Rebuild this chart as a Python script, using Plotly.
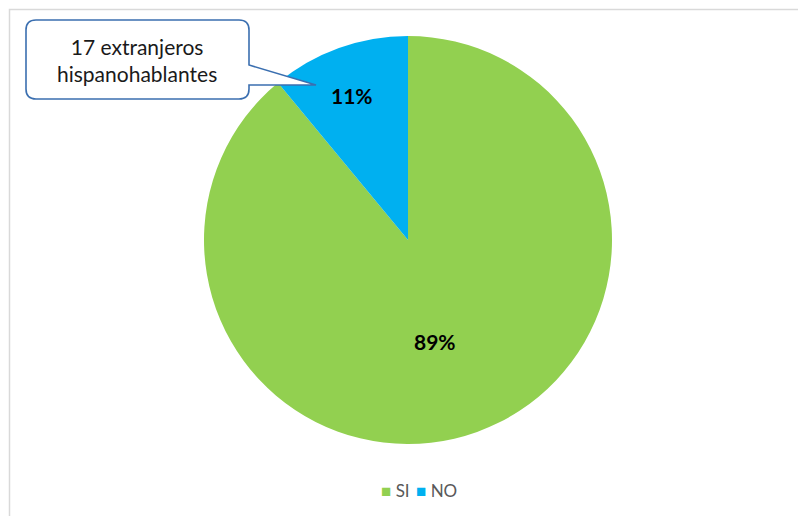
import plotly.graph_objects as go

categories = ["SI", "NO"]
values = [89, 11]
colors = ["#92D050", "#00B0F0"]
callout_text = "17 extranjeros<br>hispanohablantes"

W, H = 798, 516

def px(x):
    return x / W

def py(y):
    return 1 - y / H

fig = go.Figure()
fig.add_trace(go.Pie(
    labels=categories,
    values=values,
    sort=False,
    direction="clockwise",
    rotation=0,
    marker=dict(colors=colors, line=dict(width=0)),
    textinfo="none",
    hoverinfo="label+percent",
    domain=dict(x=[px(204), px(612)], y=[py(444), py(36)]),
    showlegend=False,
))

total = sum(values)
label_pos = {"SI": (435, 341), "NO": (352, 95)}
annotations = []
for c, v in zip(categories, values):
    x, y = label_pos[c]
    annotations.append(dict(
        x=px(x), y=py(y), xref="paper", yref="paper",
        text=f"<b>{round(100 * v / total)}%</b>", showarrow=False,
        font=dict(family="Lato, Calibri, sans-serif", size=21, color="#000000"),
        xanchor="center", yanchor="middle",
    ))

annotations.append(dict(
    x=px(137), y=py(60), xref="paper", yref="paper",
    text=callout_text, showarrow=False,
    font=dict(family="Lato, Calibri, sans-serif", size=21, color="#1a1a1a"),
    xanchor="center", yanchor="middle", align="center",
))

# legend (compact, Excel-like)
legend_x = {"SI": 379, "NO": 414}
for c, col in zip(categories, colors):
    annotations.append(dict(
        x=px(legend_x[c]), y=py(490), xref="paper", yref="paper",
        text=f"<span style='color:{col}'>■</span> {c}", showarrow=False,
        font=dict(family="Lato, Calibri, sans-serif", size=17, color="#595959"),
        xanchor="left", yanchor="middle",
    ))

# callout path
x0, y0, x1, y1, r = 26, 20, 249, 99, 10
pts = [
    f"M {px(x0 + r)} {py(y0)}",
    f"L {px(x1 - r)} {py(y0)}",
    f"Q {px(x1)} {py(y0)} {px(x1)} {py(y0 + r)}",
    f"L {px(x1)} {py(65)}",
    f"L {px(316)} {py(85)}",
    f"L {px(x1)} {py(85)}",
    f"L {px(x1)} {py(y1 - r)}",
    f"Q {px(x1)} {py(y1)} {px(x1 - r)} {py(y1)}",
    f"L {px(x0 + r)} {py(y1)}",
    f"Q {px(x0)} {py(y1)} {px(x0)} {py(y1 - r)}",
    f"L {px(x0)} {py(y0 + r)}",
    f"Q {px(x0)} {py(y0)} {px(x0 + r)} {py(y0)}",
    "Z",
]

shapes = [
    dict(type="rect", xref="paper", yref="paper",
         x0=px(9.5), y0=py(9.5), x1=px(820), y1=py(540),
         line=dict(color="#D9D9D9", width=1.5), fillcolor="rgba(0,0,0,0)", layer="below"),
    dict(type="path", xref="paper", yref="paper", path=" ".join(pts),
         line=dict(color="#3B6FB0", width=1.6), fillcolor="#FFFFFF", layer="above"),
]

fig.update_layout(
    width=W, height=H,
    margin=dict(l=0, r=0, t=0, b=0),
    paper_bgcolor="#FFFFFF",
    plot_bgcolor="#FFFFFF",
    showlegend=False,
    annotations=annotations,
    shapes=shapes,
)

fig.write_html("out.html", post_script="document.body.style.margin='0';",
               config={"displayModeBar": False})
